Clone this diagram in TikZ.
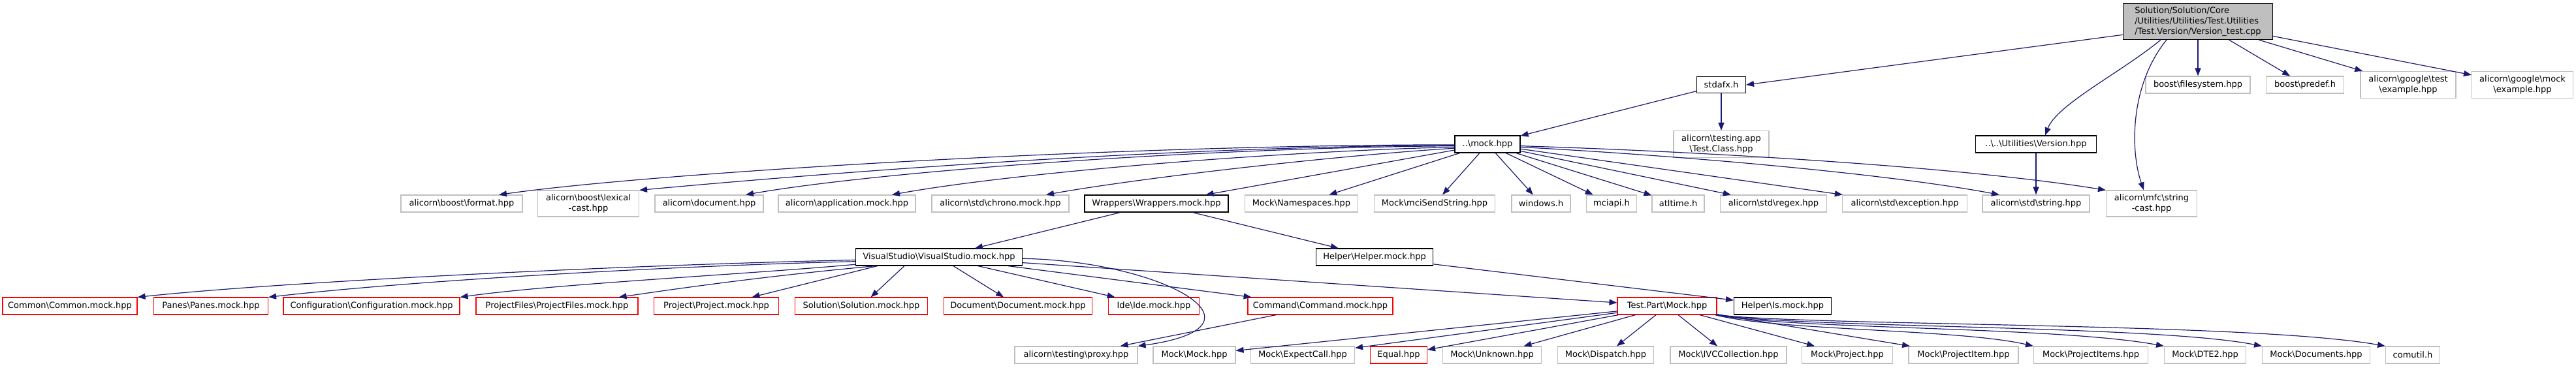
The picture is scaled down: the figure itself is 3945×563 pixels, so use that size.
\documentclass[tikz,border=0pt]{standalone}
\usepackage{fontspec}
\setmainfont{DejaVu Sans}
\usetikzlibrary{arrows.meta}
\definecolor{edgeblue}{HTML}{191970}
\definecolor{leafgray}{HTML}{BFBFBF}
\newcommand{\bsl}{\textbackslash}

\begin{document}
\begin{tikzpicture}[x=1pt, y=-1pt, font=\fontsize{13}{16}\selectfont,
    b/.style={draw, line width=1.1pt, minimum height=26pt, inner sep=1.5pt, align=center},
    leaf/.style={b, draw=leafgray},
    open/.style={b, draw=black},
    cut/.style={b, draw=red},
    e/.style={draw=edgeblue, line width=1.2pt, -{Triangle[length=12pt, width=9pt]}}]
\useasboundingbox (0,0) rectangle (3945,563);

\node[b, fill=leafgray, minimum width=229pt, minimum height=55pt, align=left] (root) at (3366,33)
    {Solution/Solution/Core\\/Utilities/Utilities/Test.Utilities\\/Test.Version/Version\_test.cpp};
\node[open, minimum width=75pt, minimum height=25pt] (stdafx) at (2636,130) {stdafx.h};
\node[leaf, minimum width=160pt] (fs) at (3366,130) {boost\bsl{}filesystem.hpp};
\node[leaf, minimum width=119pt] (predef) at (3530,130) {boost\bsl{}predef.h};
\node[leaf, minimum width=146pt, minimum height=41pt] (gtest) at (3688,130) {alicorn\bsl{}google\bsl{}test\\\bsl{}example.hpp};
\node[leaf, minimum width=155pt, minimum height=41pt] (gmock) at (3863,130) {alicorn\bsl{}google\bsl{}mock\\\bsl{}example.hpp};

\node[open, minimum width=100pt] (mock) at (2278,221) {..\bsl{}mock.hpp};
\node[leaf, minimum width=146pt, minimum height=41pt] (tcls) at (2636,221) {alicorn\bsl{}testing.app\\\bsl{}Test.Class.hpp};
\node[open, minimum width=185pt] (ver) at (3118,221) {..\bsl{}..\bsl{}Utilities\bsl{}Version.hpp};

\node[leaf, minimum width=186pt] (fmt) at (707,312) {alicorn\bsl{}boost\bsl{}format.hpp};
\node[leaf, minimum width=155pt, minimum height=40pt] (lex) at (901,312) {alicorn\bsl{}boost\bsl{}lexical\\-cast.hpp};
\node[leaf, minimum width=166pt] (doc) at (1086,312) {alicorn\bsl{}document.hpp};
\node[leaf, minimum width=210pt] (app) at (1297,312) {alicorn\bsl{}application.mock.hpp};
\node[leaf, minimum width=210pt] (chrono) at (1532,312) {alicorn\bsl{}std\bsl{}chrono.mock.hpp};
\node[open, minimum width=220pt] (wrap) at (1771,312) {Wrappers\bsl{}Wrappers.mock.hpp};
\node[leaf, minimum width=173pt] (ns) at (1993,312) {Mock\bsl{}Namespaces.hpp};
\node[leaf, minimum width=185pt] (mci) at (2197,312) {Mock\bsl{}mciSendString.hpp};
\node[leaf, minimum width=90pt] (win) at (2360,312) {windows.h};
\node[leaf, minimum width=77pt] (mciapi) at (2468,312) {mciapi.h};
\node[leaf, minimum width=80pt] (atl) at (2570,312) {atltime.h};
\node[leaf, minimum width=163pt] (regex) at (2716,312) {alicorn\bsl{}std\bsl{}regex.hpp};
\node[leaf, minimum width=191pt] (exc) at (2917,312) {alicorn\bsl{}std\bsl{}exception.hpp};
\node[leaf, minimum width=164pt] (str) at (3118,312) {alicorn\bsl{}std\bsl{}string.hpp};
\node[leaf, minimum width=139pt, minimum height=40pt] (cast) at (3295,312) {alicorn\bsl{}mfc\bsl{}string\\-cast.hpp};

\node[open, minimum width=255pt] (vs) at (1438,394) {VisualStudio\bsl{}VisualStudio.mock.hpp};
\node[open, minimum width=179pt] (helper) at (2105,394) {Helper\bsl{}Helper.mock.hpp};

\node[cut, minimum width=206pt] (common) at (107,469) {Common\bsl{}Common.mock.hpp};
\node[cut, minimum width=175pt] (panes) at (323,469) {Panes\bsl{}Panes.mock.hpp};
\node[cut, minimum width=270pt] (conf) at (569,469) {Configuration\bsl{}Configuration.mock.hpp};
\node[cut, minimum width=248pt] (pfiles) at (853,469) {ProjectFiles\bsl{}ProjectFiles.mock.hpp};
\node[cut, minimum width=191pt] (proj) at (1097,469) {Project\bsl{}Project.mock.hpp};
\node[cut, minimum width=203pt] (sol) at (1319,469) {Solution\bsl{}Solution.mock.hpp};
\node[cut, minimum width=227pt] (docm) at (1559,469) {Document\bsl{}Document.mock.hpp};
\node[cut, minimum width=139pt] (ide) at (1767,469) {Ide\bsl{}Ide.mock.hpp};
\node[cut, minimum width=222pt] (cmd) at (2022,469) {Command\bsl{}Command.mock.hpp};
\node[cut, minimum width=152pt] (tpm) at (2553,469) {Test.Part\bsl{}Mock.hpp};
\node[open, minimum width=149pt] (is) at (2730,469) {Helper\bsl{}Is.mock.hpp};

\node[leaf, minimum width=188pt] (proxy) at (1648,544) {alicorn\bsl{}testing\bsl{}proxy.hpp};
\node[leaf, minimum width=126pt] (mmock) at (1829,544) {Mock\bsl{}Mock.hpp};
\node[leaf, minimum width=159pt] (ecall) at (1995,544) {Mock\bsl{}ExpectCall.hpp};
\node[cut, minimum width=87pt] (equal) at (2142,544) {Equal.hpp};
\node[leaf, minimum width=151pt] (unk) at (2285,544) {Mock\bsl{}Unknown.hpp};
\node[leaf, minimum width=147pt] (disp) at (2459,544) {Mock\bsl{}Dispatch.hpp};
\node[leaf, minimum width=178pt] (ivc) at (2647,544) {Mock\bsl{}IVCCollection.hpp};
\node[leaf, minimum width=139pt] (mproj) at (2829,544) {Mock\bsl{}Project.hpp};
\node[leaf, minimum width=168pt] (pitem) at (3007,544) {Mock\bsl{}ProjectItem.hpp};
\node[leaf, minimum width=175pt] (pitems) at (3202,544) {Mock\bsl{}ProjectItems.hpp};
\node[leaf, minimum width=125pt] (dte) at (3377,544) {Mock\bsl{}DTE2.hpp};
\node[leaf, minimum width=165pt] (docs) at (3547,544) {Mock\bsl{}Documents.hpp};
\node[leaf, minimum width=83pt] (comutil) at (3695,544) {comutil.h};

\draw[e] (root.190) -- (stdafx.east);
\draw[e] ([xshift=-57pt]root.south) .. controls (3250,110) and (3150,160) .. ([xshift=14pt]ver.north);
\draw[e] ([xshift=-48pt]root.south) .. controls (3262,130) and (3262,230) .. ([xshift=-12pt]cast.north);
\draw[e] (root)--(fs); \draw[e] (root)--(predef); \draw[e] (root)--(gtest); \draw[e] (root)--(gmock);
\draw[e] (stdafx)--(mock); \draw[e] (stdafx)--(tcls);

\draw[e] (mock.181) .. controls (1700,222) and (1000,265) .. ([xshift=57pt]fmt.north);
\draw[e] (mock.182) .. controls (1800,224) and (1300,262) .. (lex.north east);
\draw[e] (mock.183) .. controls (1850,226) and (1350,262) .. ([xshift=56pt]doc.north);
\draw[e] (mock.185) .. controls (1950,232) and (1550,265) .. ([xshift=69pt]app.north);
\draw[e] (mock.187) .. controls (2050,238) and (1750,272) .. ([xshift=70pt]chrono.north);
\draw[e] (mock)--(wrap); \draw[e] (mock)--(ns); \draw[e] (mock)--(mci); \draw[e] (mock)--(win);
\draw[e] (mock)--(mciapi); \draw[e] (mock)--(atl); \draw[e] (mock)--(regex); \draw[e] (mock)--(exc);
\draw[e] (mock.-5) .. controls (2600,240) and (2900,268) .. ([xshift=-56pt]str.north);
\draw[e] (mock.-3) .. controls (2600,232) and (3000,255) .. (cast.north west);
\draw[e] (ver)--(str);

\draw[e] (wrap)--(vs); \draw[e] (wrap)--(helper);
\draw[e] (vs.182) .. controls (1000,405) and (450,430) .. (common.north east);
\draw[e] (vs.183) .. controls (1050,407) and (650,428) .. (panes.north east);
\draw[e] (vs.185) .. controls (1150,420) and (850,435) .. (conf.north east);
\draw[e] (vs.188) .. controls (1150,425) and (1000,448) .. ([xshift=-30pt]pfiles.north east);
\draw[e] ([xshift=-94pt]vs.south)--(proj); \draw[e] ([xshift=-53pt]vs.south)--(sol);
\draw[e] (vs)--(docm); \draw[e] (vs)--(ide); \draw[e] (vs)--(cmd); \draw[e] (vs)--(tpm);
\draw[e] (vs.-1) .. controls (1780,400) and (1960,500) .. (proxy.north east);
\draw[e] (cmd)--(proxy);
\draw[e] (helper)--(is);

\draw[e] (tpm)--(mmock); \draw[e] (tpm)--(ecall); \draw[e] (tpm)--(equal); \draw[e] (tpm)--(unk);
\draw[e] (tpm)--(disp); \draw[e] (tpm)--(ivc); \draw[e] (tpm)--(mproj); \draw[e] (tpm)--(pitem);
\draw[e] ([xshift=-3pt]tpm.south east) .. controls (2720,507) and (3000,504) .. (pitems.north west);
\draw[e] ([xshift=-2pt]tpm.south east) .. controls (2740,505) and (3150,500) .. (dte.north west);
\draw[e] ([xshift=-1pt]tpm.south east) .. controls (2760,503) and (3300,498) .. (docs.north west);
\draw[e] (tpm.south east) .. controls (2780,500) and (3450,494) .. (comutil.north west);
\end{tikzpicture}
\end{document}
